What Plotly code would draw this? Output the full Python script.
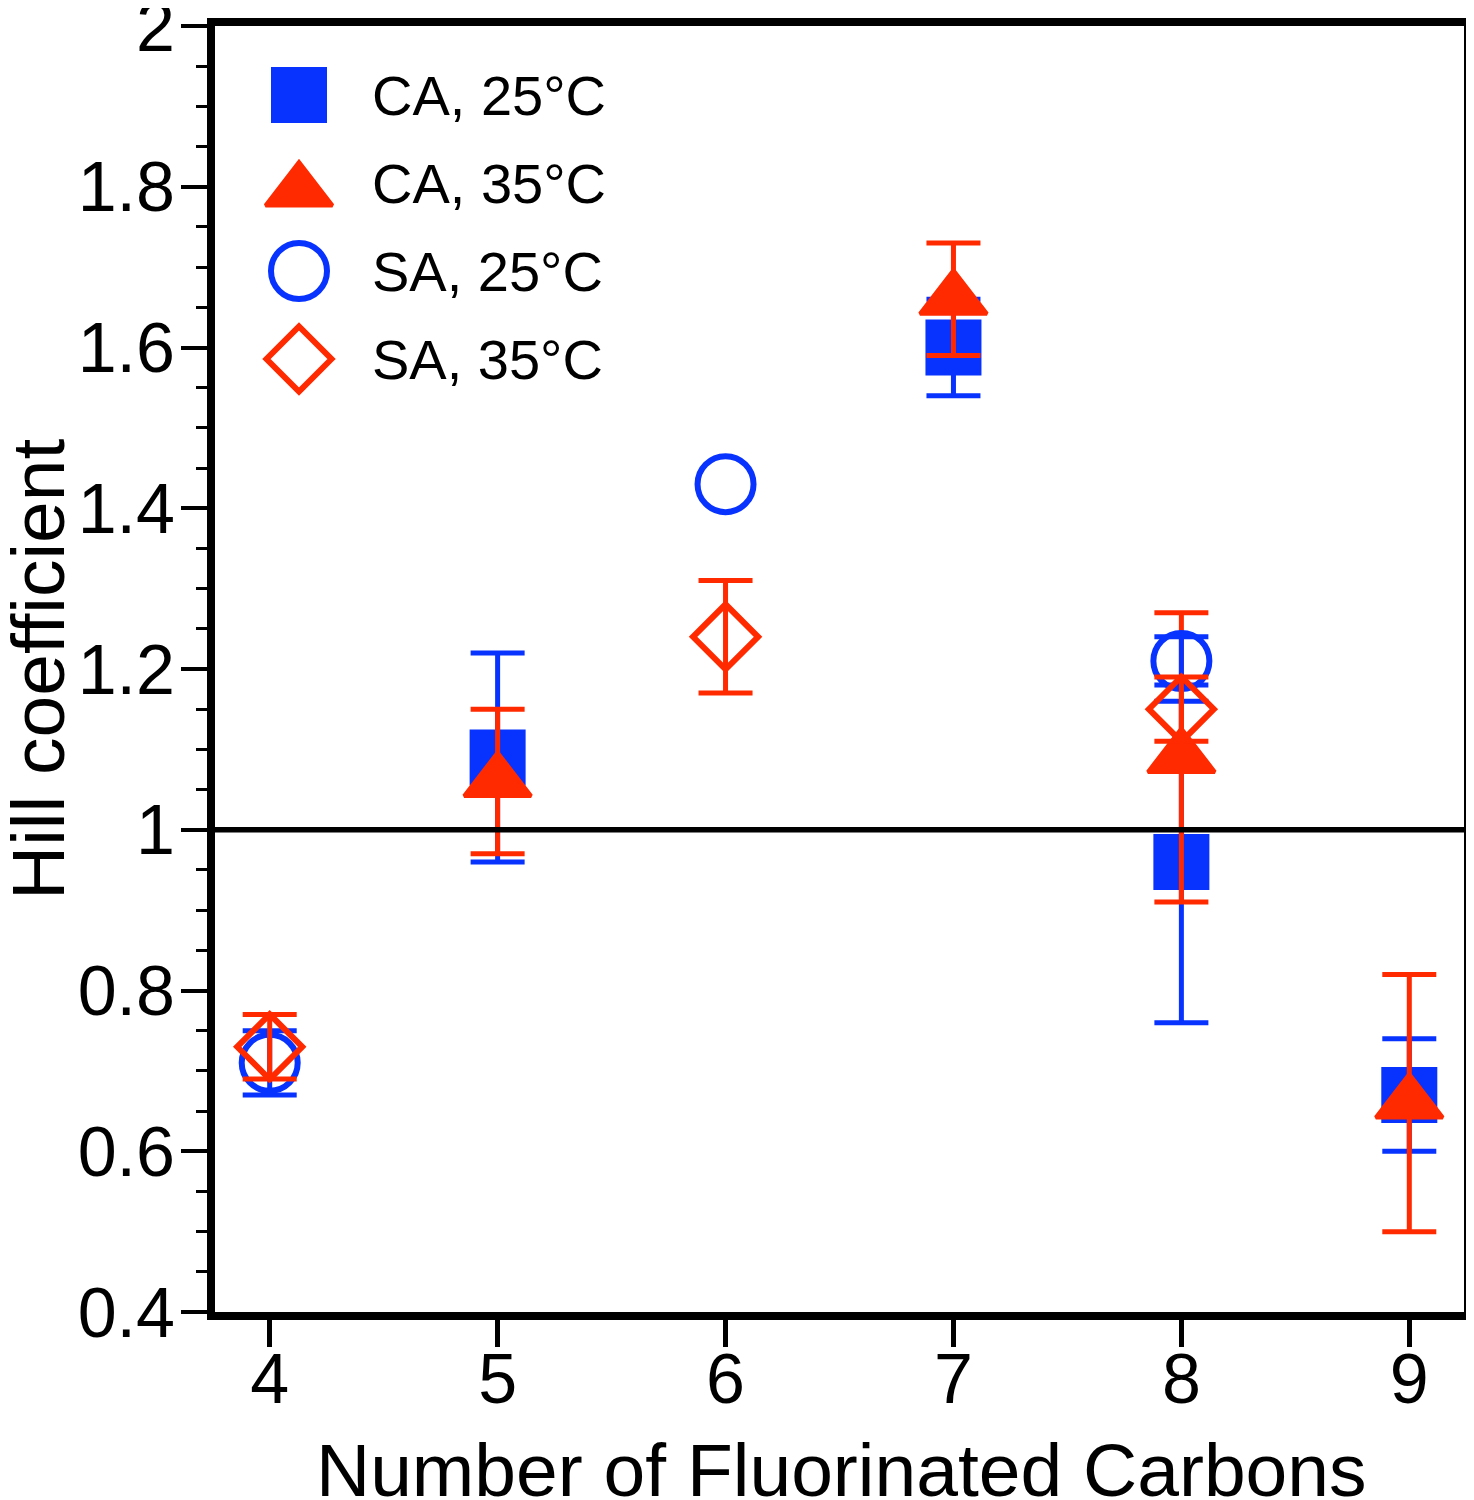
import plotly.graph_objects as go

# ---------------- data ----------------
x_ca = [5, 7, 8, 9]
ca25 = [1.09, 1.60, 0.96, 0.67]
ca25_err = [0.13, 0.06, 0.20, 0.07]
ca35 = [1.06, 1.66, 1.09, 0.66]
ca35_err = [0.09, 0.07, 0.18, 0.16]

x_sa = [4, 6, 8]
sa25 = [0.71, 1.43, 1.21]
sa25_err = [0.04, None, 0.03]
sa35 = [0.73, 1.24, 1.15]
sa35_err = [0.04, 0.07, 0.04]

legend_labels = ["CA, 25°C", "CA, 35°C", "SA, 25°C", "SA, 35°C"]
x_ticks = [4, 5, 6, 7, 8, 9]
y_ticks = [0.4, 0.6, 0.8, 1.0, 1.2, 1.4, 1.6, 1.8, 2.0]
y_ticktext = ["0.4", "0.6", "0.8", "1", "1.2", "1.4", "1.6", "1.8", "2"]
x_title = "Number of Fluorinated Carbons"
y_title = "Hill coefficient"

BLUE = "#0833FF"
RED = "#FF2A00"
FONT = "Liberation Sans, Arial, Helvetica, sans-serif"

# page body adds an 8px margin; layout below targets page pixels
OFF = 8
W, H = 1474 - OFF, 1500 - OFF
PL, PR, PT, PB = 215, 1464, 26, 1312          # plot area in page pixels
ML, MR, MT, MB = PL - OFF, W - (PR - OFF), PT - OFF, H - (PB - OFF)
PW, PH = PR - PL, PB - PT

fig = go.Figure()


def err(vals, color):
    return dict(type="data", array=vals, visible=True, color=color,
                thickness=5, width=27)


def err_only(xs, ys, es, color):
    sel = [(x, y, e) for x, y, e in zip(xs, ys, es) if e is not None]
    return go.Scatter(
        x=[s[0] for s in sel], y=[s[1] for s in sel], mode="markers",
        marker=dict(size=1, color="rgba(0,0,0,0)"),
        error_y=err([s[2] for s in sel], color),
        showlegend=False, hoverinfo="skip")


SQ = dict(symbol="square", size=52, color=BLUE, line=dict(color=BLUE, width=4))
TR = dict(symbol="triangle-up", size=58, color=RED, line=dict(color=RED, width=4))
CI = dict(symbol="circle-open", size=56, color=BLUE, line=dict(color=BLUE, width=6))
DI = dict(symbol="diamond-open", size=50, color=RED, line=dict(color=RED, width=6))

fig.add_trace(go.Scatter(x=x_ca, y=ca25, mode="markers", name=legend_labels[0],
                         marker=SQ, error_y=err(ca25_err, BLUE), showlegend=False))
fig.add_trace(go.Scatter(x=x_ca, y=ca35, mode="markers", name=legend_labels[1],
                         marker=TR, error_y=err(ca35_err, RED), showlegend=False))
fig.add_trace(err_only(x_sa, sa25, sa25_err, BLUE))
fig.add_trace(go.Scatter(x=x_sa, y=sa25, mode="markers", name=legend_labels[2],
                         marker=CI, showlegend=False))
fig.add_trace(go.Scatter(x=x_sa, y=sa35, mode="markers", name=legend_labels[3],
                         marker=DI, error_y=err(sa35_err, RED), showlegend=False))

# ---------------- manual legend (pixel overlay axes, page coords) ----------------
leg_x = 299
leg_rows = [95, 183, 271, 359]
leg_offsets = [0, 8, 0, 0]
for row, spec, off, lab in zip(leg_rows, [SQ, TR, CI, DI], leg_offsets, legend_labels):
    fig.add_trace(go.Scatter(x=[leg_x], y=[row + off], mode="markers",
                             marker=spec, xaxis="x2", yaxis="y2",
                             showlegend=False, hoverinfo="skip"))
    fig.add_annotation(x=370, y=row, xref="x2", yref="y2", text=lab,
                       showarrow=False, xanchor="left", yanchor="middle",
                       font=dict(family=FONT, size=56, color="black"))


def px2paper(px, py):
    return (px - PL) / PW, (PB - py) / PH


# axis titles (paper coords derived from page pixels)
xt = px2paper(841, 1470)
fig.add_annotation(x=xt[0], y=xt[1], xref="paper", yref="paper", text=x_title,
                   showarrow=False, xanchor="center", yanchor="middle",
                   font=dict(family=FONT, size=75, color="black"))
yt = px2paper(38, 670)
fig.add_annotation(x=yt[0], y=yt[1], xref="paper", yref="paper", text=y_title,
                   showarrow=False, xanchor="center", yanchor="middle",
                   textangle=-90,
                   font=dict(family=FONT, size=75, color="black"))

# horizontal line at 1
fig.add_shape(type="line", xref="paper", yref="y", x0=0, x1=1, y0=1, y1=1,
              line=dict(color="black", width=5.5))

fig.update_layout(
    width=W, height=H,
    margin=dict(l=ML, r=MR, t=MT, b=MB, autoexpand=False),
    paper_bgcolor="white", plot_bgcolor="white",
    font=dict(family=FONT, color="black"),
    xaxis=dict(
        range=[3.76, 9.24], tickvals=x_ticks, ticks="outside", ticklen=27,
        tickwidth=5, tickcolor="black", showline=True, linewidth=8,
        linecolor="black", mirror=True, showgrid=False, zeroline=False,
        automargin=False, ticklabeloverflow="allow", ticklabelstandoff=-28,
        tickfont=dict(family=FONT, size=70, color="black"),
    ),
    yaxis=dict(
        range=[0.4, 2.0], tickvals=y_ticks, ticktext=y_ticktext,
        ticks="outside", ticklen=26, tickwidth=4, tickcolor="black",
        showline=True, linewidth=8, linecolor="black", mirror=True,
        showgrid=False, zeroline=False, automargin=False,
        ticklabeloverflow="allow", ticklabelstandoff=-8,
        tickfont=dict(family=FONT, size=70, color="black"),
        minor=dict(dtick=0.05, ticks="outside", ticklen=11, tickwidth=3,
                   tickcolor="black", showgrid=False),
    ),
    xaxis2=dict(range=[PL, PR], overlaying="x", visible=False,
                domain=[0, 1], fixedrange=True, automargin=False),
    yaxis2=dict(range=[PB, PT], overlaying="y", visible=False,
                domain=[0, 1], fixedrange=True, automargin=False),
)

fig.write_html("out.html")
